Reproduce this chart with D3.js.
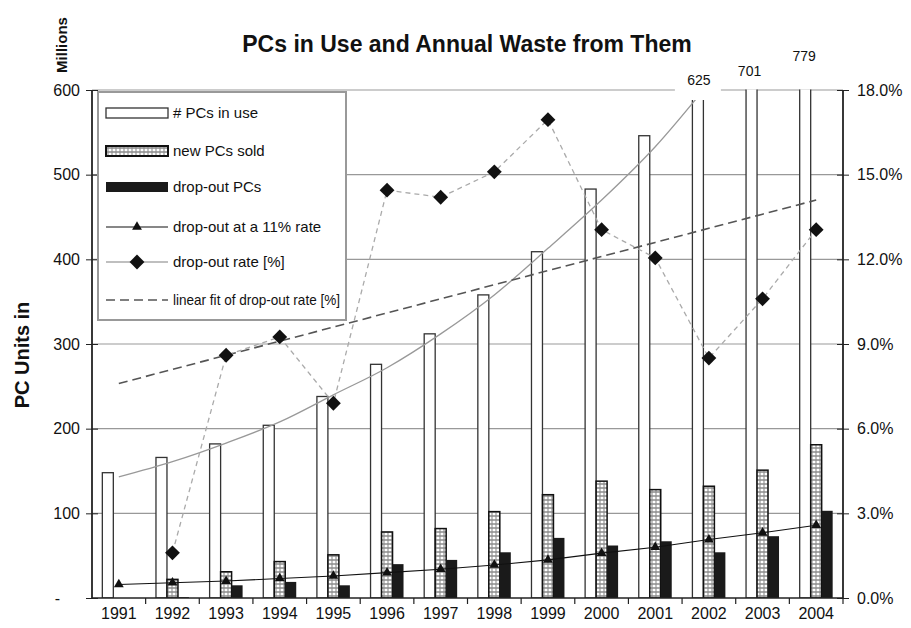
<!DOCTYPE html>
<html><head><meta charset="utf-8">
<script src="https://cdn.jsdelivr.net/npm/d3@7"></script>
<style>
body{margin:0;background:#fff;}
text{font-family:"Liberation Sans",Arial,Helvetica,sans-serif;fill:#111;}
</style>
</head><body>
<svg id="c" width="911" height="628"></svg>
<script>
// ---------- data ----------
const years      = [1991,1992,1993,1994,1995,1996,1997,1998,1999,2000,2001,2002,2003,2004];
const pcsInUse   = [148,166,182,204,238,276,312,358,409,483,546,625,701,779];
const newSold    = [null,22,31,43,51,78,82,102,122,138,128,132,151,181];
const dropOut    = [null,1,15,19,15,40,45,54,71,62,67,54,73,103];
const dropAt11   = [16,18,20,23,26,30,34,39,45,53,60,69,77,86];
const useTrend   = [143,161,183,208,240,272,312,358,413,470,533,608]; // 1991-2002
const dropRate   = [null,1.6,8.6,9.25,6.9,14.45,14.2,15.1,16.95,13.05,12.05,8.5,10.6,13.05];
const rateFit    = [7.6,8.1,8.6,9.1,9.6,10.1,10.6,11.1,11.6,12.1,12.6,13.1,13.6,14.1];
const leftTicks  = [0,100,200,300,400,500,600];
const rightTicks = [0,3,6,9,12,15,18];
const clippedLabels = [2002,2003,2004];

// ---------- layout ----------
const L=92, R=843, T=90, B=598;
const svg = d3.select("#c");
const x0 = d3.scaleBand().domain(years).range([L,R]).paddingInner(0).paddingOuter(0);
const xs = d3.scaleBand().domain(["use","sold","drop"]).range([0,x0.bandwidth()]).paddingInner(0).paddingOuter(0.94);
const y  = d3.scaleLinear().domain([0,600]).range([B,T]);
const y2 = d3.scaleLinear().domain([0,18]).range([B,T]);
const cx = yr => x0(yr) + x0.bandwidth()/2;

const defs = svg.append("defs");
const pat = defs.append("pattern").attr("id","dots").attr("patternUnits","userSpaceOnUse")
  .attr("width",4).attr("height",4);
pat.append("rect").attr("width",4).attr("height",4).attr("fill","#999");
pat.append("ellipse").attr("cx",2).attr("cy",2).attr("rx",1.6).attr("ry",1.3).attr("fill","#fff");
defs.append("clipPath").attr("id","plotclip").append("rect")
  .attr("x",L-2).attr("y",T-0.5).attr("width",R-L+4).attr("height",B-T+0.5);

// gridlines
svg.append("g").selectAll("line").data(leftTicks.filter(d=>d>0)).join("line")
  .attr("x1",L).attr("x2",R).attr("y1",d=>y(d)).attr("y2",d=>y(d))
  .attr("stroke","#999").attr("stroke-width",1.2);

const plot = svg.append("g").attr("clip-path","url(#plotclip)");

// bars
const rows = years.map((yr,i)=>({yr, use:pcsInUse[i], sold:newSold[i], drop:dropOut[i]}));
plot.append("g").selectAll("rect").data(rows).join("rect")
  .attr("x",d=>x0(d.yr)+xs("use")).attr("width",xs.bandwidth())
  .attr("y",d=>y(d.use)).attr("height",d=>B-y(d.use))
  .attr("fill","#fff").attr("stroke","#333").attr("stroke-width",1.3);
plot.append("g").selectAll("rect").data(rows.filter(d=>d.sold!=null)).join("rect")
  .attr("x",d=>x0(d.yr)+xs("sold")).attr("width",xs.bandwidth())
  .attr("y",d=>y(d.sold)).attr("height",d=>B-y(d.sold))
  .attr("fill","url(#dots)").attr("stroke","#111").attr("stroke-width",1.5);
plot.append("g").selectAll("rect").data(rows.filter(d=>d.drop!=null)).join("rect")
  .attr("x",d=>x0(d.yr)+xs("drop")).attr("width",xs.bandwidth())
  .attr("y",d=>y(d.drop)).attr("height",d=>B-y(d.drop))
  .attr("fill","#1a1a1a");

// trend of PCs in use
plot.append("path").datum(useTrend.map((v,i)=>({yr:years[i],v})))
  .attr("d",d3.line().x(d=>cx(d.yr)).y(d=>y(d.v)).curve(d3.curveMonotoneX))
  .attr("fill","none").attr("stroke","#999").attr("stroke-width",1.3);

// linear fit of rate
plot.append("path").datum(rateFit.map((v,i)=>({yr:years[i],v})))
  .attr("d",d3.line().x(d=>cx(d.yr)).y(d=>y2(d.v)))
  .attr("fill","none").attr("stroke","#555").attr("stroke-width",1.6).attr("stroke-dasharray","9,5");

// drop-out rate dashed + diamonds
const rateRows = years.map((yr,i)=>({yr,v:dropRate[i]})).filter(d=>d.v!=null);
plot.append("path").datum(rateRows)
  .attr("d",d3.line().x(d=>cx(d.yr)).y(d=>y2(d.v)))
  .attr("fill","none").attr("stroke","#aaa").attr("stroke-width",1.3).attr("stroke-dasharray","5,4");

// 11% line + triangles
const r11 = years.map((yr,i)=>({yr,v:dropAt11[i]}));
plot.append("path").datum(r11)
  .attr("d",d3.line().x(d=>cx(d.yr)).y(d=>y(d.v)))
  .attr("fill","none").attr("stroke","#111").attr("stroke-width",1.1);
const tri = d3.symbol().type(d3.symbolTriangle).size(42);
plot.append("g").selectAll("path").data(r11).join("path")
  .attr("d",tri).attr("transform",d=>`translate(${cx(d.yr)},${y(d.v)})`).attr("fill","#111");

const dia = d3.symbol().type(d3.symbolSquare).size(110);
plot.append("g").selectAll("path").data(rateRows).join("path")
  .attr("d",dia).attr("transform",d=>`translate(${cx(d.yr)},${y2(d.v)}) rotate(45)`).attr("fill","#111");

// value labels for clipped bars
const lab = svg.append("g");
clippedLabels.forEach(yr=>{
  const i = years.indexOf(yr);
  const xc = x0(yr)+xs("use")+xs.bandwidth()/2;
  if (yr===2002) {
    lab.append("rect").attr("x",xc-23).attr("y",62).attr("width",46).attr("height",38).attr("fill","#fff");
    lab.append("text").attr("x",xc+1).attr("y",85).attr("text-anchor","middle").attr("font-size",14).text(pcsInUse[i]);
  } else if (yr===2003) {
    lab.append("text").attr("x",xc-2).attr("y",76).attr("text-anchor","middle").attr("font-size",14).text(pcsInUse[i]);
  } else {
    lab.append("text").attr("x",xc-1).attr("y",61).attr("text-anchor","middle").attr("font-size",14).text(pcsInUse[i]);
  }
});

// axes
const ax = svg.append("g").attr("transform",`translate(${L},0)`)
  .call(d3.axisLeft(y).tickValues(leftTicks).tickFormat(d=>d===0?"-":d).tickSize(6).tickPadding(6));
ax.select(".domain").attr("stroke","#222").attr("stroke-width",1.8).attr("d",`M0,${T}V${B}`);
ax.selectAll(".tick line").attr("x1",6).attr("x2",-6).attr("stroke","#222");
ax.selectAll(".tick text").attr("font-size",16).attr("fill","#111").attr("font-family",null);
ax.selectAll(".tick").filter(d=>d===0).select("text").attr("x",-32);

const ar = svg.append("g").attr("transform",`translate(${R},0)`)
  .call(d3.axisRight(y2).tickValues(rightTicks).tickFormat(d=>d.toFixed(1)+"%").tickSize(6).tickPadding(8));
ar.select(".domain").attr("stroke","#222").attr("stroke-width",1.8).attr("d",`M0,${T}V${B}`);
ar.selectAll(".tick line").attr("x1",-6).attr("x2",6).attr("stroke","#222");
ar.selectAll(".tick text").attr("font-size",16).attr("fill","#111").attr("font-family",null);

const ab = svg.append("g").attr("transform",`translate(0,${B})`)
  .call(d3.axisBottom(x0).tickSize(0).tickPadding(10));
ab.select(".domain").attr("stroke","#222").attr("stroke-width",1.5).attr("d",`M${L},0H${R}`);
ab.selectAll(".tick text").attr("font-size",16).attr("fill","#111").attr("font-family",null);
ab.append("g").selectAll("line").data(years.slice(1).concat([null])).join("line")
  .attr("x1",d=>d==null?R:x0(d)).attr("x2",d=>d==null?R:x0(d))
  .attr("y1",0).attr("y2",6).attr("stroke","#222").attr("stroke-width",1.2);

// legend
const lg = svg.append("g");
lg.append("rect").attr("x",98).attr("y",92).attr("width",248).attr("height",228)
  .attr("fill","#fff").attr("stroke","#999").attr("stroke-width",2);
const items = [
  {t:"# PCs in use", k:"use"},
  {t:"new PCs sold", k:"sold"},
  {t:"drop-out PCs", k:"drop"},
  {t:"drop-out at a 11% rate", k:"tri"},
  {t:"drop-out rate [%]", k:"dia"},
  {t:"linear fit of drop-out rate [%]", k:"fit"}
];
const ly = [113,151,187,227,262,300];
items.forEach((it,i)=>{
  const yy = ly[i];
  if (it.k==="use") lg.append("rect").attr("x",106).attr("y",yy-5).attr("width",62).attr("height",10).attr("fill","#fff").attr("stroke","#333").attr("stroke-width",1.3);
  if (it.k==="sold") lg.append("rect").attr("x",106).attr("y",yy-5).attr("width",62).attr("height",10).attr("fill","url(#dots)").attr("stroke","#111").attr("stroke-width",2);
  if (it.k==="drop") lg.append("rect").attr("x",106).attr("y",yy-5).attr("width",62).attr("height",10).attr("fill","#1a1a1a");
  if (it.k==="tri") {
    lg.append("line").attr("x1",106).attr("x2",168).attr("y1",yy).attr("y2",yy).attr("stroke","#111").attr("stroke-width",1.1);
    lg.append("path").attr("d",tri).attr("transform",`translate(137,${yy})`).attr("fill","#111");
  }
  if (it.k==="dia") {
    lg.append("line").attr("x1",106).attr("x2",168).attr("y1",yy).attr("y2",yy).attr("stroke","#aaa").attr("stroke-width",1.3);
    lg.append("path").attr("d",dia).attr("transform",`translate(137,${yy}) rotate(45)`).attr("fill","#111");
  }
  if (it.k==="fit") lg.append("line").attr("x1",106).attr("x2",168).attr("y1",yy).attr("y2",yy).attr("stroke","#555").attr("stroke-width",1.6).attr("stroke-dasharray","9,5");
  const tx = lg.append("text").attr("x",173).attr("y",yy+5).attr("font-size",15).text(it.t);
  if (it.k==="fit") tx.attr("textLength",167).attr("lengthAdjust","spacingAndGlyphs");
});

// titles
svg.append("text").attr("x",467).attr("y",52).attr("text-anchor","middle")
  .attr("font-size",23).attr("font-weight","bold").text("PCs in Use and Annual Waste from Them");
svg.append("text").attr("transform","translate(67,45) rotate(-90)").attr("text-anchor","middle")
  .attr("font-size",15).attr("font-weight","bold").text("Millions");
svg.append("text").attr("transform","translate(29,355) rotate(-90)").attr("text-anchor","middle")
  .attr("font-size",20).attr("font-weight","bold").text("PC Units in");
</script>
</body></html>
